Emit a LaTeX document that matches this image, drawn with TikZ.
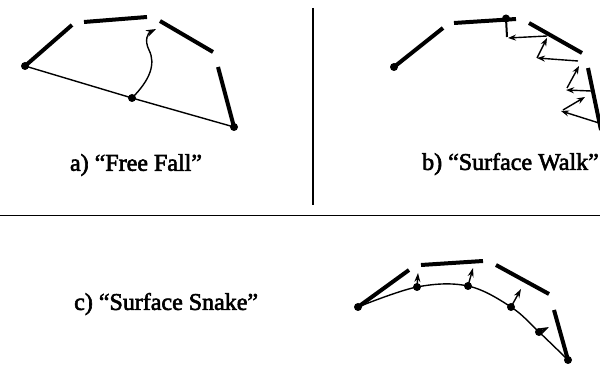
\documentclass[tikz,border=0pt]{standalone}
\usepackage{fontspec}
\setmainfont{Liberation Serif}[FakeBold=2.5]
\usetikzlibrary{arrows.meta}
\begin{document}
\begin{tikzpicture}[x=1pt,y=-1pt,
  seg/.style={line width=4pt},
  thin/.style={line width=1.4pt},
  dotc/.style={circle,fill=black,inner sep=0pt,minimum size=8pt},
  walk/.style={line width=1.4pt,-{Stealth[length=8pt,width=6pt]}},
  snk/.style={line width=1.4pt,-{Stealth[length=9pt,width=6pt]}},
  lbl/.style={font=\fontsize{24}{28}\selectfont,inner sep=0pt},
  divider/.style={line width=1.4pt}]
\useasboundingbox (0,0) rectangle (600,371);
% dividers
\coordinate (vt) at (313,8); \coordinate (vb) at (313,205);
\coordinate (hl) at (0,215.5); \coordinate (hr) at (600,215.5);
\draw[divider] (vt) -- (vb);
\draw[divider] (hl) -- (hr);
% ---------- panel a ----------
\node[dotc] (aL) at (25,66) {};
\node[dotc] (aM) at (132,98) {};
\node[dotc] (aR) at (234,127) {};
\coordinate (a1) at (72,25);
\coordinate (a2s) at (84,22); \coordinate (a2e) at (147,17);
\coordinate (a3s) at (160,21); \coordinate (a3e) at (213,52);
\coordinate (a4s) at (218,67);
\draw[seg] (aL.center) -- (a1);
\draw[seg] (a2s) -- (a2e);
\draw[seg] (a3s) -- (a3e);
\draw[seg] (a4s) -- (aR.center);
\draw[thin] (aL.center) -- (aM.center) -- (aR.center);
\coordinate (amid) at (149,50);
\coordinate (atip) at (156,29);
\draw[thin,-{Stealth[length=10pt,width=7pt]}] (aM.center) .. controls (150,80) and (156,64) .. (amid) .. controls (144,40) and (148,33) .. (atip);
\node[lbl] (la) at (136,165) {a) “Free Fall”};
% ---------- panel b ----------
\node[dotc] (bD1) at (394,67) {};
\node[dotc] (bD2) at (506,18.5) {};
\coordinate (b1) at (443,28);
\coordinate (b2s) at (454,23); \coordinate (b2e) at (516,19);
\coordinate (b3s) at (529,23); \coordinate (b3e) at (582,53);
\coordinate (b4s) at (588,68); \coordinate (b4e) at (601,130);
\draw[seg] (bD1.center) -- (b1);
\draw[seg] (b2s) -- (b2e);
\draw[seg] (b3s) -- (b3e);
\draw[seg] (b4s) -- (b4e);
\coordinate (w0) at (507,37);
\coordinate (w1s) at (547,36); \coordinate (w1e) at (508,38);
\coordinate (w2s) at (537,58); \coordinate (w2e) at (547,38);
\coordinate (w3s) at (578,61); \coordinate (w3e) at (537,58);
\coordinate (w4s) at (567,88); \coordinate (w4e) at (579,66);
\coordinate (w5s) at (591,91); \coordinate (w5e) at (566,90);
\coordinate (w6s) at (563,110); \coordinate (w6e) at (585,97);
\coordinate (w7s) at (599,123); \coordinate (w7e) at (561,111);
\draw[line width=2pt] (bD2.center) -- (w0);
\draw[walk] (w1s) -- (w1e);
\draw[walk] (w2s) -- (w2e);
\draw[walk] (w3s) -- (w3e);
\draw[walk] (w4s) -- (w4e);
\draw[walk] (w5s) -- (w5e);
\draw[walk] (w6s) -- (w6e);
\draw[walk] (w7s) -- (w7e);
\node[lbl,anchor=east] (lb) at (599,164) {b) “Surface Walk”};
% ---------- panel c ----------
\node[dotc] (c0) at (358,307) {};
\node[dotc] (c1) at (417,287) {};
\node[dotc] (c2) at (468,286) {};
\node[dotc] (c3) at (511,307) {};
\node[dotc] (c4) at (539,332) {};
\node[dotc] (c5) at (568,360) {};
\coordinate (cs1) at (409,270);
\coordinate (cs2s) at (421,265); \coordinate (cs2e) at (483,261);
\coordinate (cs3s) at (496,265); \coordinate (cs3e) at (549,294);
\coordinate (cs4s) at (554,310);
\draw[seg] (c0.center) -- (cs1);
\draw[seg] (cs2s) -- (cs2e);
\draw[seg] (cs3s) -- (cs3e);
\draw[seg] (cs4s) -- (c5.center);
\draw[thin] plot[smooth,tension=0.6] coordinates {(c0.center) (c1.center) (c2.center) (c3.center) (c4.center) (c5.center)};
\coordinate (t1) at (418,273);
\coordinate (t2) at (473,268);
\coordinate (t3) at (521,289);
\coordinate (t4) at (549,327);
\draw[snk] (c1.center) -- (t1);
\draw[snk] (c2.center) -- (t2);
\draw[snk] (c3.center) -- (t3);
\draw[snk] (c4.center) -- (t4);
\node[lbl,anchor=west] (lc) at (74,304) {c) “Surface Snake”};
\end{tikzpicture}
\end{document}
